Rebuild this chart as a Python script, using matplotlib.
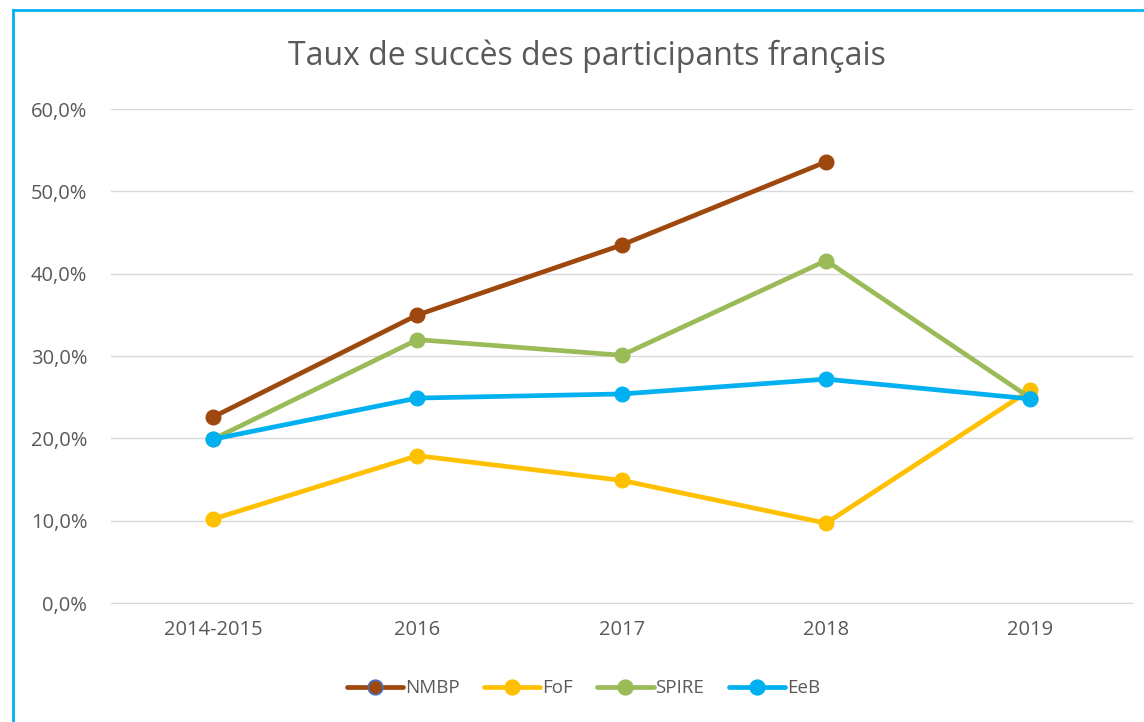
import matplotlib.pyplot as plt
from matplotlib.lines import Line2D
from matplotlib.ticker import FuncFormatter

categories = ['2014-2015', '2016', '2017', '2018', '2019']
nmbp = [0.226, 0.350, 0.435, 0.536, None]
fof = [0.102, 0.179, 0.149, 0.097, 0.259]
spire = [0.199, 0.320, 0.301, 0.416, 0.249]
eeb = [0.199, 0.249, 0.254, 0.272, 0.248]

series = [
    ('NMBP', nmbp, '#9E480E', '#4472C4'),
    ('FoF', fof, '#FFC000', '#FFC000'),
    ('SPIRE', spire, '#9BBB59', '#9BBB59'),
    ('EeB', eeb, '#00B0F0', '#00B0F0'),
]

plt.rcParams['font.family'] = ['Open Sans', 'DejaVu Sans']

fig = plt.figure(figsize=(11.44, 7.22), dpi=100)
ax = fig.add_axes([0.097, 0.1648, 0.893, 0.684])

x = list(range(len(categories)))
for name, vals, col, edge in series:
    xs = [i for i, v in zip(x, vals) if v is not None]
    ys = [v for v in vals if v is not None]
    ax.plot(xs, ys, color=col, lw=3.4, marker='o', ms=10.5,
            markerfacecolor=col, markeredgecolor=col, label=name,
            solid_capstyle='round', zorder=3)

ax.set_xlim(-0.5, 4.5)
ax.set_ylim(0, 0.6)
ax.set_xticks(x)
ax.set_xticklabels(categories)
ax.set_yticks([i / 10 for i in range(7)])
ax.yaxis.set_major_formatter(FuncFormatter(lambda v, p: f'{v*100:.1f}%'.replace('.', ',')))
ax.grid(axis='y', color='#D9D9D9', lw=1)
ax.set_axisbelow(True)
for s in ['top', 'right', 'left']:
    ax.spines[s].set_visible(False)
ax.spines['bottom'].set_color('#D9D9D9')
ax.tick_params(length=0, labelsize=14.5, colors='#595959', pad=12)
ax.tick_params(axis='y', pad=17)

fig.text(0.513, 0.922, 'Taux de succès des participants français', ha='center',
         va='center', fontsize=23, color='#595959')

handles = []
for name, vals, col, edge in series:
    handles.append(Line2D([0], [0], color=col, lw=3.4, marker='o', ms=10.5,
                          markerfacecolor=col, markeredgecolor=edge, mew=1.2,
                          solid_capstyle='round'))
fig.legend(handles, [s[0] for s in series], loc='center', bbox_to_anchor=(0.51, 0.047),
           ncol=4, frameon=False, fontsize=13.5, handlelength=3.0, handletextpad=0.1,
           columnspacing=1.3, labelcolor='#595959')

# light blue frame (left and top only visible)
fig.add_artist(Line2D([0.0114, 0.0114], [0, 0.986], color='#00B0F0', lw=2, transform=fig.transFigure))
fig.add_artist(Line2D([0.0114, 1.0], [0.986, 0.986], color='#00B0F0', lw=2, transform=fig.transFigure))

fig.savefig('out.png', dpi=100, facecolor='white')
